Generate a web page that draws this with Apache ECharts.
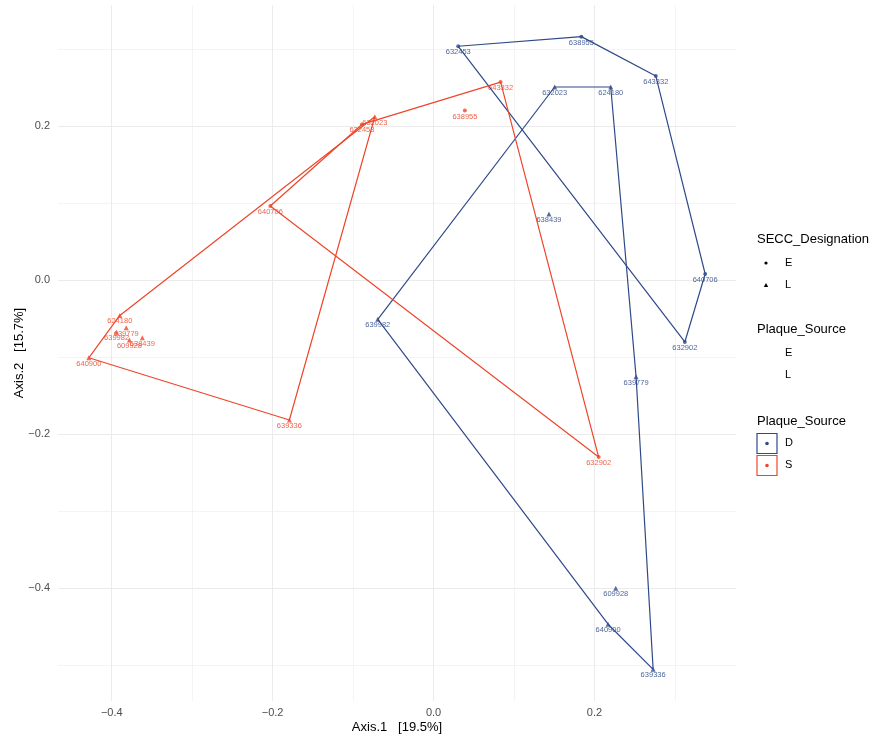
<!DOCTYPE html>
<html>
<head>
<meta charset="utf-8">
<script src="https://cdn.jsdelivr.net/npm/echarts@6/dist/echarts.min.js"></script>
<style>
  html, body { margin: 0; padding: 0; background: #ffffff; }
  #chart { width: 878px; height: 740px; }
</style>
</head>
<body>
<div id="chart"></div>
<script>
// PCoA ordination: sample scores on Axis.1 / Axis.2, by plaque source (D, S)
const sampleIds   = ['632453', '638955', '643332', '640706', '632902', '632023', '624180',
                     '639336', '640900', '639779', '639982', '638439', '609928'];
const designation = ['E', 'E', 'E', 'E', 'E', 'L', 'L', 'L', 'L', 'L', 'L', 'L', 'L'];

const axis1D = [0.0307, 0.1838, 0.2763, 0.3377, 0.3124, 0.1506, 0.2203,
                0.2730, 0.2170, 0.2518, -0.0693, 0.1435, 0.2265];
const axis2D = [0.3035, 0.3160, 0.2650, 0.0078, -0.0805, 0.2506, 0.2506,
                -0.5056, -0.4470, -0.1255, -0.0510, 0.0857, -0.4004];

const axis1S = [-0.0890, 0.0390, 0.0834, -0.2029, 0.2053, -0.0730, -0.3900,
                -0.1792, -0.4285, -0.3820, -0.3940, -0.3620, -0.3780];
const axis2S = [0.2020, 0.2200, 0.2570, 0.0961, -0.2299, 0.2120, -0.0460,
                -0.1818, -0.1010, -0.0620, -0.0680, -0.0750, -0.0780];

const xMajor = [-0.4, -0.2, 0.0, 0.2];
const xMinor = [-0.3, -0.1, 0.1, 0.3];
const yMajor = [-0.4, -0.2, 0.0, 0.2];
const yMinor = [-0.5, -0.3, -0.1, 0.1, 0.3];

const sources      = ['D', 'S'];
const sourceColors = ['#2f4a88', '#ee462b'];
const desigLevels  = ['E', 'L'];
const desigSymbols = ['circle', 'triangle'];

const xTitle = 'Axis.1   [19.5%]';
const yTitle = 'Axis.2   [15.7%]';

// axis limits with a 5% margin on either side of the data
function padded(values) {
  const lo = Math.min(...values), hi = Math.max(...values);
  const pad = (hi - lo) * 0.05;
  return [lo - pad, hi + pad];
}
const [xMin, xMax] = padded(axis1D.concat(axis1S));
const [yMin, yMax] = padded(axis2D.concat(axis2S));

// convex hull (monotone chain), closed back to its first vertex
function hull(points) {
  const p = points.slice().sort((a, b) => a[0] - b[0] || a[1] - b[1]);
  const cross = (o, a, b) => (a[0] - o[0]) * (b[1] - o[1]) - (a[1] - o[1]) * (b[0] - o[0]);
  const lower = [], upper = [];
  for (const q of p) {
    while (lower.length >= 2 && cross(lower[lower.length - 2], lower[lower.length - 1], q) <= 0) lower.pop();
    lower.push(q);
  }
  for (let i = p.length - 1; i >= 0; i--) {
    const q = p[i];
    while (upper.length >= 2 && cross(upper[upper.length - 2], upper[upper.length - 1], q) <= 0) upper.pop();
    upper.push(q);
  }
  upper.pop(); lower.pop();
  const h = lower.concat(upper);
  h.push(h[0]);
  return h;
}

const fmt = v => (Math.abs(v) < 1e-9 ? '0.0' : v.toFixed(1).replace('-', '\u2212'));

const coords = [[axis1D, axis2D], [axis1S, axis2S]];
const series = [];

sources.forEach((src, si) => {
  const [xs, ys] = coords[si];
  const color = sourceColors[si];
  desigLevels.forEach((lvl, li) => {
    const pts = [];
    xs.forEach((x, i) => {
      if (designation[i] === lvl) pts.push([x, ys[i], sampleIds[i]]);
    });
    series.push({
      type: 'line',
      data: hull(pts.map(p => [p[0], p[1]])),
      showSymbol: false,
      symbol: 'none',
      lineStyle: { color: color, width: 1.2 },
      silent: true,
      z: 2
    });
    series.push({
      type: 'scatter',
      data: pts,
      symbol: desigSymbols[li],
      symbolSize: lvl === 'L' ? 5 : 4,
      itemStyle: { color: color },
      label: {
        show: true,
        position: 'inside',
        offset: [0, 6],
        formatter: p => p.data[2],
        fontFamily: 'Liberation Sans, Arial, sans-serif',
        fontSize: 7.5,
        color: color,
        opacity: 0.85
      },
      z: 3
    });
  });
});

const gridStyle = { color: '#ebebeb', width: 1 };
const minorStyle = { color: '#ededed', width: 0.6 };
const font = 'Liberation Sans, Arial, sans-serif';

const chart = echarts.init(document.getElementById('chart'));
chart.setOption({
  animation: false,
  backgroundColor: '#ffffff',
  textStyle: { fontFamily: font },
  grid: { left: 58, right: 142, top: 5, bottom: 39, containLabel: false, outerBoundsMode: 'none' },
  xAxis: [{
    type: 'value', min: xMin, max: xMax,
    name: xTitle, nameLocation: 'middle', nameGap: 20, nameMoveOverlap: false,
    nameTextStyle: { color: '#000000', fontSize: 13, fontFamily: font },
    axisLine: { show: false },
    axisTick: { show: false, customValues: xMajor },
    axisLabel: { customValues: xMajor, formatter: fmt, color: '#4d4d4d', fontSize: 11, margin: 6 },
    splitLine: { show: true, lineStyle: gridStyle }
  }, {
    type: 'value', min: xMin, max: xMax, position: 'bottom',
    axisLine: { show: false },
    axisTick: { show: false, customValues: xMinor },
    axisLabel: { show: false, customValues: xMinor },
    splitLine: { show: true, lineStyle: minorStyle }
  }],
  yAxis: [{
    type: 'value', min: yMin, max: yMax,
    name: yTitle, nameLocation: 'middle', nameGap: 32, nameRotate: 90, nameMoveOverlap: false,
    nameTextStyle: { color: '#000000', fontSize: 13, fontFamily: font },
    axisLine: { show: false },
    axisTick: { show: false, customValues: yMajor },
    axisLabel: { customValues: yMajor, formatter: fmt, color: '#4d4d4d', fontSize: 11, margin: 8 },
    splitLine: { show: true, lineStyle: gridStyle }
  }, {
    type: 'value', min: yMin, max: yMax, position: 'left',
    axisLine: { show: false },
    axisTick: { show: false, customValues: yMinor },
    axisLabel: { show: false, customValues: yMinor },
    splitLine: { show: true, lineStyle: minorStyle }
  }],
  series: series,
  graphic: buildLegend()
});

// legend panels on the right
function buildLegend() {
  const g = [];
  const title = (txt, y) => g.push({
    type: 'text', left: 757, top: y - 5,
    style: { text: txt, fill: '#000000', font: '13px ' + font }
  });
  const item = (txt, y) => g.push({
    type: 'text', left: 785, top: y - 6,
    style: { text: txt, fill: '#000000', font: '11px ' + font }
  });

  title('SECC_Designation', 238);
  g.push({ type: 'circle', shape: { cx: 766, cy: 263, r: 1.6 }, style: { fill: '#000000' } });
  item(desigLevels[0], 263);
  g.push({ type: 'polygon', shape: { points: [[766, 283], [768.2, 287], [763.8, 287]] }, style: { fill: '#000000' } });
  item(desigLevels[1], 285);

  title('Plaque_Source', 328);
  item(desigLevels[0], 353);
  item(desigLevels[1], 375);

  title('Plaque_Source', 420);
  sources.forEach((s, i) => {
    const y = 433.5 + i * 22;
    g.push({ type: 'rect', shape: { x: 757, y: y, width: 20, height: 20 },
             style: { fill: '#ffffff', stroke: sourceColors[i], lineWidth: 1.2 } });
    g.push({ type: 'circle', shape: { cx: 767, cy: y + 10, r: 1.8 }, style: { fill: sourceColors[i] } });
    item(s, y + 10);
  });
  return g;
}
</script>
</body>
</html>
